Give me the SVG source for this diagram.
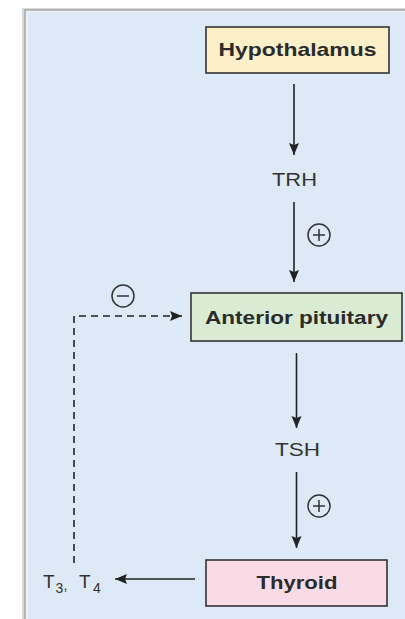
<svg xmlns="http://www.w3.org/2000/svg" width="405" height="619" viewBox="0 0 405 619">
  <style>
    .box { stroke: #333; stroke-width: 1.6; }
    .lbl { font-family: "Liberation Sans", Arial, sans-serif; font-weight: bold; font-size: 18.5px; fill: #2b2b2b; text-anchor: middle; }
    .hor { font-family: "Liberation Sans", Arial, sans-serif; font-size: 19px; fill: #333; text-anchor: middle; }
    .sym { fill: none; stroke: #333; stroke-width: 1.5; }
    .conn { fill: none; stroke: #222; stroke-width: 1.6; }
    .dash { stroke-dasharray: 7 5; }
  </style>
  <defs>
    <marker id="ah" markerUnits="userSpaceOnUse" markerWidth="14" markerHeight="12" refX="12" refY="5" orient="auto">
      <path d="M0,0 L12,5 L0,10 L2,5 z" fill="#222"/>
    </marker>
    <radialGradient id="cg" cx="0.5" cy="0.5" r="0.5">
      <stop offset="0.6" stop-color="#e4ecf5"/>
      <stop offset="1" stop-color="#b9c3cd"/>
    </radialGradient>
  </defs>

  <!-- panel -->
  <rect x="0" y="0" width="405" height="619" fill="#ffffff"/>
  <rect x="22" y="8" width="383" height="611" fill="#dadada"/>
  <rect x="24" y="9" width="381" height="610" fill="#b5b5b5"/>
  <rect x="26" y="11" width="379" height="608" fill="#f2f2f2"/>
  <rect x="28" y="12" width="377" height="607" fill="#dde9f6"/>

  <g id="hypothalamus">
    <rect class="box" x="206" y="27" width="183" height="46" fill="#fdf0c9"/>
    <text class="lbl" x="297.5" y="56" textLength="158" lengthAdjust="spacingAndGlyphs">Hypothalamus</text>
  </g>

  <g id="trh">
    <text class="hor" x="294.5" y="186" textLength="45" lengthAdjust="spacingAndGlyphs">TRH</text>
  </g>

  <g id="anterior-pituitary">
    <rect class="box" x="191" y="293" width="211" height="48" fill="#d9ebd3"/>
    <text class="lbl" x="296.5" y="323.5" textLength="183" lengthAdjust="spacingAndGlyphs">Anterior pituitary</text>
  </g>

  <g id="tsh">
    <text class="hor" x="297.5" y="456" textLength="45" lengthAdjust="spacingAndGlyphs">TSH</text>
  </g>

  <g id="thyroid">
    <rect class="box" x="206" y="560" width="181" height="46" fill="#f9dbe6"/>
    <text class="lbl" x="297" y="588.5" textLength="81" lengthAdjust="spacingAndGlyphs">Thyroid</text>
  </g>

  <g id="t3t4">
    <text font-family="'Liberation Sans', Arial, sans-serif" font-size="19" fill="#333">
      <tspan x="43" y="588">T</tspan><tspan x="55.5" y="593" font-size="14">3</tspan><tspan x="63.5" y="590" font-size="14">,</tspan><tspan x="79" y="588">T</tspan><tspan x="93" y="593" font-size="14">4</tspan>
    </text>
  </g>

  <g id="signs">
    <circle cx="319" cy="235" r="11" fill="url(#cg)" class="sym"/>
    <path class="sym" d="M313 235 H325 M319 229 V241"/>
    <circle cx="319" cy="506" r="11" fill="url(#cg)" class="sym"/>
    <path class="sym" d="M313 506 H325 M319 500 V512"/>
    <circle cx="123" cy="296" r="11" fill="url(#cg)" class="sym"/>
    <path class="sym" d="M117 296 H129" stroke-width="2"/>
  </g>

  <g id="connectors">
    <line class="conn" x1="294" y1="84" x2="294" y2="155" marker-end="url(#ah)"/>
    <line class="conn" x1="294" y1="202" x2="294" y2="282" marker-end="url(#ah)"/>
    <line class="conn" x1="296.5" y1="353" x2="296.5" y2="428" marker-end="url(#ah)"/>
    <line class="conn" x1="296.5" y1="472" x2="296.5" y2="548" marker-end="url(#ah)"/>
    <line class="conn" x1="195" y1="579" x2="115" y2="579" marker-end="url(#ah)"/>
    <path class="conn dash" d="M74 563 V316 H182" marker-end="url(#ah)"/>
  </g>
</svg>
